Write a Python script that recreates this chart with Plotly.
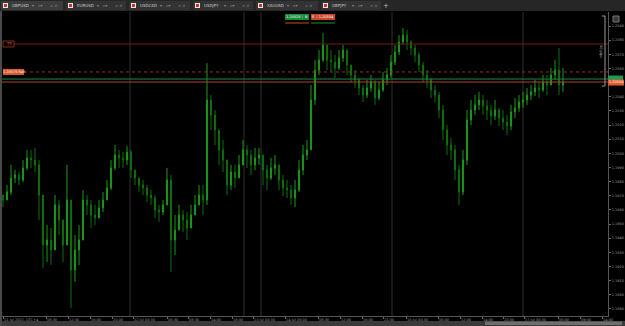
import plotly.graph_objects as go

# ---------------- data (GBPUSD) ----------------
close = [
    1.19670, 1.19727, 1.19826, 1.19847, 1.19812, 1.19896, 1.19967, 1.19953, 1.19918, 1.19705,
    1.19352, 1.19387, 1.19317, 1.19635, 1.19529, 1.19352, 1.19670, 1.19175, 1.19317, 1.19387,
    1.19670, 1.19635, 1.19564, 1.19543, 1.19614, 1.19670, 1.19755, 1.19896, 1.19988, 1.19967,
    1.19953, 1.20009, 1.19882, 1.19826, 1.19776, 1.19755, 1.19705, 1.19684, 1.19599, 1.19585,
    1.19635, 1.19812, 1.19387, 1.19458, 1.19564, 1.19529, 1.19472, 1.19564, 1.19635, 1.19705,
    1.19670, 1.20377, 1.20271, 1.20165, 1.20024, 1.19953, 1.19776, 1.19868, 1.19826, 1.19918,
    1.20024, 1.19988, 1.19918, 1.19967, 1.19988, 1.19882, 1.19826, 1.19896, 1.19918, 1.19812,
    1.19755, 1.19741, 1.19684, 1.19741, 1.19882, 1.19988, 1.20024, 1.20377, 1.20589, 1.20660,
    1.20766, 1.20660, 1.20646, 1.20603, 1.20674, 1.20730, 1.20624, 1.20554, 1.20518, 1.20462,
    1.20412, 1.20462, 1.20504, 1.20391, 1.20448, 1.20518, 1.20554, 1.20646, 1.20716, 1.20787,
    1.20836, 1.20787, 1.20745, 1.20695, 1.20624, 1.20554, 1.20518, 1.20448, 1.20412, 1.20306,
    1.20165, 1.20059, 1.20024, 1.19882, 1.19727, 1.19953, 1.20236, 1.20306, 1.20342, 1.20377,
    1.20335, 1.20306, 1.20264, 1.20306, 1.20250, 1.20221, 1.20193, 1.20292, 1.20320, 1.20363,
    1.20377, 1.20412, 1.20434, 1.20462, 1.20448, 1.20504, 1.20483, 1.20554, 1.20589, 1.20483,
    1.20504,
]
high = [
    1.19705, 1.19776, 1.19918, 1.19882, 1.19868, 1.19953, 1.20024, 1.20024, 1.20038, 1.19953,
    1.19458, 1.19493, 1.19472, 1.19705, 1.19670, 1.19493, 1.19918, 1.19493, 1.19423, 1.19493,
    1.19741, 1.19705, 1.19670, 1.19635, 1.19670, 1.19727, 1.19812, 1.19953, 1.20059, 1.20024,
    1.20009, 1.20052, 1.20024, 1.19882, 1.19826, 1.19812, 1.19776, 1.19741, 1.19705, 1.19635,
    1.19670, 1.19896, 1.19847, 1.19564, 1.19635, 1.19599, 1.19585, 1.19635, 1.19705, 1.19776,
    1.19776, 1.20638, 1.20412, 1.20306, 1.20165, 1.20094, 1.19953, 1.19918, 1.19918, 1.19988,
    1.20094, 1.20059, 1.20024, 1.20038, 1.20038, 1.19988, 1.19918, 1.19967, 1.19988, 1.19918,
    1.19847, 1.19812, 1.19776, 1.19812, 1.19953, 1.20059, 1.20094, 1.20483, 1.20660, 1.20730,
    1.20851, 1.20766, 1.20730, 1.20695, 1.20730, 1.20766, 1.20730, 1.20624, 1.20589, 1.20532,
    1.20483, 1.20518, 1.20554, 1.20518, 1.20504, 1.20575, 1.20603, 1.20695, 1.20766, 1.20836,
    1.20886, 1.20872, 1.20801, 1.20766, 1.20716, 1.20646, 1.20589, 1.20532, 1.20483, 1.20434,
    1.20342, 1.20200, 1.20108, 1.20059, 1.19918, 1.20024, 1.20306, 1.20377, 1.20412, 1.20434,
    1.20412, 1.20377, 1.20342, 1.20377, 1.20320, 1.20306, 1.20271, 1.20342, 1.20391, 1.20412,
    1.20434, 1.20462, 1.20483, 1.20518, 1.20504, 1.20554, 1.20554, 1.20603, 1.20660, 1.20745,
    1.20603,
]
low = [
    1.19621, 1.19670, 1.19705, 1.19790, 1.19776, 1.19797, 1.19882, 1.19896, 1.19868, 1.19529,
    1.19190, 1.19232, 1.19211, 1.19423, 1.19423, 1.19232, 1.19387, 1.18907, 1.19091, 1.19211,
    1.19423, 1.19564, 1.19472, 1.19493, 1.19543, 1.19585, 1.19670, 1.19741, 1.19882, 1.19896,
    1.19896, 1.19918, 1.19826, 1.19776, 1.19727, 1.19705, 1.19656, 1.19635, 1.19543, 1.19515,
    1.19564, 1.19635, 1.19161, 1.19281, 1.19493, 1.19444, 1.19387, 1.19472, 1.19564, 1.19635,
    1.19564, 1.19635, 1.20165, 1.20059, 1.19918, 1.19868, 1.19705, 1.19741, 1.19755, 1.19826,
    1.19918, 1.19896, 1.19847, 1.19882, 1.19918, 1.19776, 1.19741, 1.19812, 1.19847, 1.19741,
    1.19698, 1.19684, 1.19635, 1.19621, 1.19727, 1.19847, 1.19953, 1.20024, 1.20342, 1.20554,
    1.20646, 1.20589, 1.20575, 1.20532, 1.20589, 1.20646, 1.20554, 1.20504, 1.20462, 1.20412,
    1.20363, 1.20391, 1.20434, 1.20342, 1.20377, 1.20434, 1.20483, 1.20532, 1.20624, 1.20695,
    1.20766, 1.20730, 1.20695, 1.20646, 1.20575, 1.20504, 1.20462, 1.20391, 1.20363, 1.20250,
    1.20094, 1.19988, 1.19953, 1.19812, 1.19635, 1.19705, 1.19918, 1.20200, 1.20271, 1.20306,
    1.20271, 1.20236, 1.20200, 1.20236, 1.20193, 1.20165, 1.20130, 1.20165, 1.20250, 1.20292,
    1.20320, 1.20342, 1.20377, 1.20405, 1.20391, 1.20434, 1.20412, 1.20483, 1.20518, 1.20412,
    1.20434,
]
first_open = 1.19705

tp_level = 1.20773
sell_level = 1.20575
ask_level = 1.20525
bid_level = 1.20504

y_tick_vals = [1.2090, 1.2080, 1.2070, 1.2060, 1.2050, 1.2040, 1.2030, 1.2020, 1.2010, 1.2000,
               1.1990, 1.1980, 1.1970, 1.1960, 1.1950, 1.1940, 1.1930, 1.1920, 1.1910, 1.1900, 1.1890]
# the 1.2050 label sits under the orange bid tag
y_tick_text = ["1.2090", "1.2080", "1.2070", "1.2060", "", "1.2040", "1.2030", "1.2020",
               "1.2010", "1.2000", "1.1990", "1.1980", "1.1970", "1.1960", "1.1950", "1.1940",
               "1.1930", "1.1920", "1.1910", "1.1900", "1.1890"]

x_tick_pos = [0, 10.75, 16.25, 21.75, 27.25, 32.5, 41, 46.25, 51.75, 57.25, 62.5, 70.5,
              78.75, 84.25, 89.75, 95, 100.75, 108.75, 114.25, 119.75, 125, 130.25, 138.75,
              144.25, 149.75]
x_tick_text = ["11 Jul 2022, UTC+4", "08:30", "12:30", "16:00", "20:00", "12 Jul 00:30",
               "06:30", "08:30", "14:00", "18:00", "13 Jul 00:30", "14 Jul 06:00", "08:30",
               "12:00", "16:00", "21:00", "16 Jul 00:30", "06:00", "12:00", "14:00", "20:00",
               "17 Jul 00:30", "05:00", "09:00", "14:00"]

day_breaks = [31.75, 60.25, 64.5, 97.25, 130]

tabs = ["GBPUSD", "EURUSD", "USDCAD", "USDJPY", "XAUUSD", "GBPJPY"]

# ---------------- derived ----------------
idx = list(range(len(close)))
opens = [first_open] + close[:-1]
hi = [max(h, o, c) for h, o, c in zip(high, opens, close)]
lo = [min(l, o, c) for l, o, c in zip(low, opens, close)]

W, H = 625, 326
L, R, T, B = 2, 17, 12, 10
PW, PH = W - L - R, H - T - B
Y_RANGE = [1.18850, 1.20999]
ppp = (Y_RANGE[1] - Y_RANGE[0]) / PH  # price per pixel


def X(p):
    return (p - L) / PW


def Y(p):
    return (H - B - p) / PH


FONT = "DejaVu Sans"

fig = go.Figure()
fig.add_trace(go.Candlestick(
    x=idx, open=opens, high=hi, low=lo, close=close,
    increasing=dict(line=dict(color="#1c961c", width=1), fillcolor="#1c961c"),
    decreasing=dict(line=dict(color="#0e6e0e", width=1), fillcolor="#0e6e0e"),
    whiskerwidth=0, hoverinfo="skip", showlegend=False,
))

shapes = []
ann = []

# tab bar
shapes.append(dict(type="rect", xref="paper", yref="paper", x0=X(0), x1=X(W), y0=Y(11), y1=Y(0),
                   fillcolor="#262626", line=dict(width=0), layer="above"))
tab_x = [(1, 63), (66, 126), (129, 190), (193, 253), (256, 318), (321, 381)]
for k, (name, (a, b)) in enumerate(zip(tabs, tab_x)):
    shapes.append(dict(type="rect", xref="paper", yref="paper", x0=X(a), x1=X(b), y0=Y(10), y1=Y(1),
                       fillcolor="#3c3c3c" if k == 0 else "#333333", line=dict(width=0), layer="above"))
    shapes.append(dict(type="rect", xref="paper", yref="paper", x0=X(a + 2), x1=X(a + 7), y0=Y(8), y1=Y(3),
                       fillcolor="#e8e8e8", line=dict(width=0), layer="above"))
    shapes.append(dict(type="rect", xref="paper", yref="paper", x0=X(a + 3), x1=X(a + 6), y0=Y(7), y1=Y(4),
                       fillcolor="#d03020", line=dict(width=0), layer="above"))
    ann.append(dict(text=name, xref="paper", yref="paper", x=X(a + 9), y=Y(5.5), xanchor="left",
                    yanchor="middle", showarrow=False, font=dict(family=FONT, size=4, color="#c8c8c8")))
    ann.append(dict(text="▾   ▫▾      ▫ ×", xref="paper", yref="paper", x=X(a + 29), y=Y(5.5),
                    xanchor="left", yanchor="middle", showarrow=False,
                    font=dict(family=FONT, size=4, color="#8a8a8a")))
ann.append(dict(text="+", xref="paper", yref="paper", x=X(386), y=Y(5.5), xanchor="center",
                yanchor="middle", showarrow=False, font=dict(family=FONT, size=7, color="#bbbbbb")))

# left strip
shapes.append(dict(type="rect", xref="paper", yref="paper", x0=X(0), x1=X(2), y0=Y(H), y1=Y(11),
                   fillcolor="#4a4a4a", line=dict(width=0), layer="above"))
# scrollbar
shapes.append(dict(type="rect", xref="paper", yref="paper", x0=X(2), x1=X(W), y0=Y(H), y1=Y(321),
                   fillcolor="#3a3a3a", line=dict(width=0), layer="above"))
shapes.append(dict(type="rect", xref="paper", yref="paper", x0=X(485), x1=X(622), y0=Y(325), y1=Y(321.5),
                   fillcolor="#6e6e6e", line=dict(width=0), layer="above"))

# day separators
for d in day_breaks:
    shapes.append(dict(type="line", xref="x", yref="paper", x0=d, x1=d, y0=0, y1=1,
                       line=dict(color="#2e2e2e", width=1), layer="below"))

# level lines
shapes.append(dict(type="line", xref="paper", yref="y", x0=X(14), x1=1, y0=tp_level, y1=tp_level,
                   line=dict(color="#7a1c10", width=1), layer="above"))
shapes.append(dict(type="line", xref="paper", yref="y", x0=X(24), x1=1, y0=sell_level, y1=sell_level,
                   line=dict(color="#8a3414", width=1, dash="dot"), layer="above"))
shapes.append(dict(type="line", xref="paper", yref="y", x0=0, x1=1, y0=ask_level, y1=ask_level,
                   line=dict(color="#138a4a", width=1), layer="above"))
shapes.append(dict(type="line", xref="paper", yref="y", x0=0, x1=1, y0=bid_level, y1=bid_level,
                   line=dict(color="#b8401c", width=1), layer="above"))

# left order labels
shapes.append(dict(type="rect", xref="paper", yref="y", x0=X(3), x1=X(14),
                   y0=tp_level - 3 * ppp, y1=tp_level + 3 * ppp,
                   fillcolor="#000000", line=dict(color="#8a2a14", width=1), layer="above"))
ann.append(dict(text="TP", xref="paper", yref="y", x=X(8.5), y=tp_level, xanchor="center",
                yanchor="middle", showarrow=False, font=dict(family=FONT, size=4, color="#d05a3a")))
shapes.append(dict(type="rect", xref="paper", yref="y", x0=X(3), x1=X(24),
                   y0=sell_level - 3 * ppp, y1=sell_level + 3 * ppp,
                   fillcolor="#d8582a", line=dict(width=0), layer="above"))
ann.append(dict(text="1.20575 Sell", xref="paper", yref="y", x=X(13.5), y=sell_level, xanchor="center",
                yanchor="middle", showarrow=False, font=dict(family=FONT, size=3.5, color="#ffffff")))

# right price labels
shapes.append(dict(type="rect", xref="paper", yref="y", x0=X(608), x1=X(623),
                   y0=ask_level - 1 * ppp, y1=ask_level + 3.5 * ppp,
                   fillcolor="#1a9a55", line=dict(width=0), layer="above"))
shapes.append(dict(type="rect", xref="paper", yref="y", x0=X(608), x1=X(624),
                   y0=bid_level - 3.5 * ppp, y1=bid_level + 2.5 * ppp,
                   fillcolor="#e05a2c", line=dict(width=0), layer="above"))
ann.append(dict(text="1.20504", xref="paper", yref="y", x=X(616), y=bid_level, xanchor="center",
                yanchor="middle", showarrow=False, font=dict(family=FONT, size=3.5, color="#ffffff")))

# top buy / sell buttons
shapes.append(dict(type="rect", xref="paper", yref="paper", x0=X(285), x1=X(309), y0=Y(20), y1=Y(14),
                   fillcolor="#1c8a3c", line=dict(width=0), layer="above"))
shapes.append(dict(type="rect", xref="paper", yref="paper", x0=X(311), x1=X(335), y0=Y(20), y1=Y(14),
                   fillcolor="#c8482a", line=dict(width=0), layer="above"))
shapes.append(dict(type="line", xref="paper", yref="paper", x0=X(285), x1=X(309), y0=Y(23), y1=Y(23),
                   line=dict(color="#c8482a", width=1), layer="above"))
shapes.append(dict(type="line", xref="paper", yref="paper", x0=X(311), x1=X(335), y0=Y(23), y1=Y(23),
                   line=dict(color="#1c8a3c", width=1), layer="above"))
ann.append(dict(text="1.20525 ⁞  B", xref="paper", yref="paper", x=X(297), y=Y(17), xanchor="center",
                yanchor="middle", showarrow=False, font=dict(family=FONT, size=3.5, color="#ffffff")))
ann.append(dict(text="S  ⁞ 1.20504", xref="paper", yref="paper", x=X(323), y=Y(17), xanchor="center",
                yanchor="middle", showarrow=False, font=dict(family=FONT, size=3.5, color="#ffffff")))

# 50 pips bracket
shapes.append(dict(type="line", xref="paper", yref="paper", x0=X(605), x1=X(605), y0=Y(86), y1=Y(16),
                   line=dict(color="#9a9a9a", width=1), layer="above"))
shapes.append(dict(type="line", xref="paper", yref="paper", x0=X(602), x1=X(605), y0=Y(16), y1=Y(16),
                   line=dict(color="#9a9a9a", width=1), layer="above"))
shapes.append(dict(type="line", xref="paper", yref="paper", x0=X(602), x1=X(605), y0=Y(86), y1=Y(86),
                   line=dict(color="#9a9a9a", width=1), layer="above"))
ann.append(dict(text="50 pips", xref="paper", yref="paper", x=X(601), y=Y(51), xanchor="center",
                yanchor="middle", textangle=90, showarrow=False,
                font=dict(family=FONT, size=3.5, color="#aaaaaa")))
# top-right settings icon
shapes.append(dict(type="rect", xref="paper", yref="paper", x0=X(613), x1=X(619), y0=Y(22), y1=Y(16),
                   fillcolor="#3a3a3a", line=dict(color="#777777", width=1), layer="above"))

fig.update_layout(
    width=W, height=H,
    margin=dict(l=L, r=R, t=T, b=B, pad=0),
    paper_bgcolor="#000000", plot_bgcolor="#000000",
    shapes=shapes, annotations=ann,
    showlegend=False,
    boxgap=0.6,
    xaxis=dict(range=[-0.25, 151.25], rangeslider=dict(visible=False), showgrid=False, zeroline=False,
               tickmode="array", tickvals=x_tick_pos, ticktext=x_tick_text, tickangle=0,
               ticklabelposition="outside right", ticks="outside", ticklen=2, tickcolor="#6a6a6a",
               tickfont=dict(family=FONT, size=3.5, color="#9a9a9a"),
               showline=True, linecolor="#555555", linewidth=1, fixedrange=True),
    yaxis=dict(range=Y_RANGE, side="right", showgrid=False, zeroline=False,
               tickmode="array", tickvals=y_tick_vals, ticktext=y_tick_text,
               ticks="outside", ticklen=2, tickcolor="#6a6a6a",
               tickfont=dict(family=FONT, size=3.5, color="#9a9a9a"),
               showline=True, linecolor="#555555", linewidth=1, fixedrange=True),
)

fig.write_html("out.html")
